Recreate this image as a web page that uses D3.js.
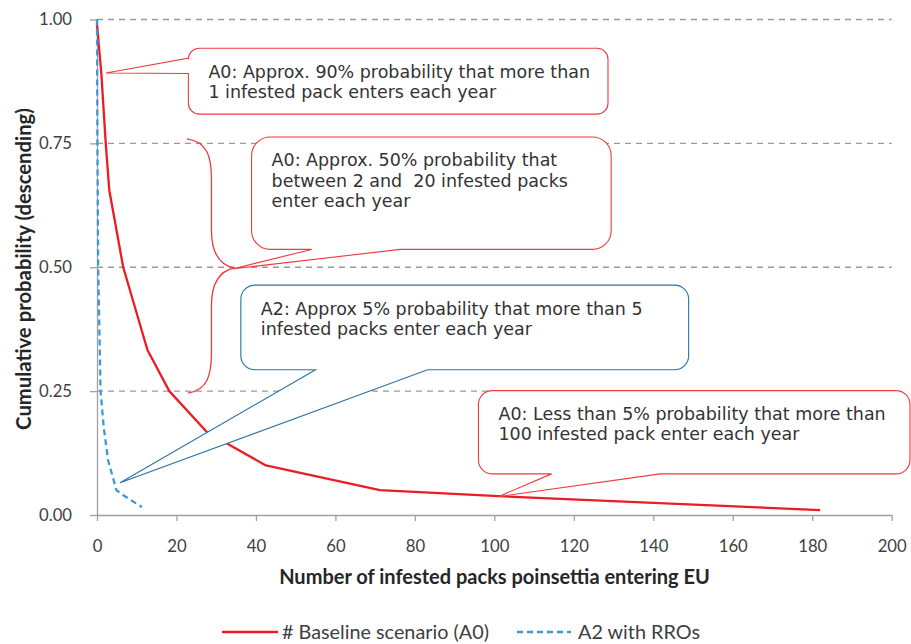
<!DOCTYPE html>
<html><head><meta charset="utf-8">
<script src="https://cdn.jsdelivr.net/npm/d3@7/dist/d3.min.js"></script>
<style>html,body{margin:0;padding:0;background:#fff;} svg{display:block;}</style>
</head><body>
<svg id="chart" width="911" height="644"></svg>
<script>
// ---------------- data ----------------
const a0Packs = [0, 1.1, 2.2, 3.1, 6.6, 12.7, 18.2, 27.7, 42.5, 71.2, 101, 182];
const a0Prob  = [0.99, 0.89, 0.75, 0.655, 0.5, 0.333, 0.25, 0.167, 0.10, 0.05, 0.038, 0.01];
const a2Packs = [0, 0.1, 0.3, 0.9, 1.7, 2.8, 4.9, 6.6, 11.3];
const a2Prob  = [1.0, 0.75, 0.5, 0.25, 0.177, 0.11, 0.05, 0.04, 0.016];
const xTicks = [0, 20, 40, 60, 80, 100, 120, 140, 160, 180, 200];
const yTicks = [0, 0.25, 0.5, 0.75, 1];
const seriesNames = ["# Baseline scenario (A0)", "A2 with RROs"];
const xTitle = "Number of infested packs poinsettia entering EU";
const yTitle = "Cumulative probability (descending)";
const calloutLines = [
  ["A0: Approx. 90% probability that more than", "1 infested pack enters each year"],
  ["A0: Approx. 50% probability that", "between 2 and  20 infested packs", "enter each year"],
  ["A2: Approx 5% probability that more than 5", "infested packs enter each year"],
  ["A0: Less than 5% probability that more than", "100 infested pack enter each year"]
];

// annotation geometry (data units: packs, probability)
const calloutBox = [
  {x0: 23.0, x1: 128.6, top: 0.942, bottom: 0.809},
  {x0: 38.9, x1: 129.4, top: 0.763, bottom: 0.536},
  {x0: 36.2, x1: 148.9, top: 0.464, bottom: 0.293},
  {x0: 96.0, x1: 204.6, top: 0.251, bottom: 0.083}
];
const calloutWedge = [
  {side: "left",   a: 0.922, b: 0.891, tip: [2.26, 0.892]},
  {side: "bottom", a: 54.0,  b: 76.3,  tip: [34.35, 0.497]},
  {side: "bottom", a: 55.0,  b: 83.2,  tip: [5.8, 0.065]},
  {side: "bottom", a: 114.4, b: 141.7, tip: [101.0, 0.037]}
];
const calloutColor = ["#ef3a3f", "#ef3a3f", "#2c72a6", "#ef3a3f"];
const brace = {top: [22.65, 0.759], shaft: 28.8, tip: [34.5, 0.4985], bottom: [22.9, 0.246]};

// ---------------- drawing ----------------
const svg = d3.select("#chart");
const x = d3.scaleLinear().domain([0, 200]).range([97, 891.7]);
const y = d3.scaleLinear().domain([0, 1]).range([515, 19.5]);

function measure(str, font) {
  const t = svg.append("text").style("font", font).style("white-space", "pre").text(str);
  const w = t.node().getComputedTextLength();
  t.remove();
  return w;
}
function fitSize(str, family, weight, target) {
  return 20 * target / measure(str, `${weight} 20px ${family}`);
}

const labelFont = "Lato, 'Open Sans', sans-serif";
const tickSize = fitSize("0.75", labelFont, 400, 33);
const titleSize = fitSize(xTitle, labelFont, 700, 431);
const ySize = fitSize(yTitle, labelFont, 700, 322);
const legendSize = fitSize(seriesNames[0], labelFont, 400, 207);
const calloutFont = "'DejaVu Sans', Verdana, sans-serif";
const calloutSize = fitSize(calloutLines[0][0], calloutFont, 400, 382);

// gridlines
svg.append("g").selectAll("line").data(yTicks.filter(d => d > 0)).join("line")
  .attr("x1", x(0)).attr("x2", x(200))
  .attr("y1", d => y(d)).attr("y2", d => y(d))
  .attr("stroke", "#9a9a9a").attr("stroke-width", 1.3).attr("stroke-dasharray", "6,5");

// axes
const xAxis = svg.append("g").attr("transform", `translate(0,${y(0)})`)
  .call(d3.axisBottom(x).tickValues(xTicks).tickSize(6).tickSizeOuter(0).tickFormat(d3.format("d")));
xAxis.selectAll("text").attr("y", 37).attr("dy", null)
  .style("font-family", labelFont).style("font-size", tickSize + "px").attr("fill", "#404040");
const yAxis = svg.append("g").attr("transform", `translate(${x(0)},0)`)
  .call(d3.axisLeft(y).tickValues(yTicks).tickSize(7).tickSizeOuter(0).tickPadding(18).tickFormat(d3.format(".2f")));
yAxis.selectAll("text").style("font-family", labelFont).style("font-size", tickSize + "px").attr("fill", "#404040");
svg.selectAll(".domain, .tick line").attr("stroke", "#a0a0a0").attr("stroke-width", 1.3);

// titles
svg.append("text").attr("x", 494.5).attr("y", 584).attr("text-anchor", "middle")
  .style("font-family", labelFont).style("font-weight", 700).style("font-size", titleSize + "px")
  .attr("fill", "#262626").text(xTitle);
svg.append("text").attr("transform", "translate(31,269) rotate(-90)").attr("text-anchor", "middle")
  .style("font-family", labelFont).style("font-weight", 700).style("font-size", ySize + "px")
  .attr("fill", "#262626").text(yTitle);

// series lines
const line = d3.line().x(d => x(d[0])).y(d => y(d[1]));
svg.append("path").datum(a0Packs.map((v, i) => [v, a0Prob[i]]))
  .attr("d", line).attr("fill", "none").attr("stroke", "#ed1c24").attr("stroke-width", 2.3)
  .attr("stroke-linejoin", "round");
svg.append("path").datum(a2Packs.map((v, i) => [v, a2Prob[i]]))
  .attr("d", line).attr("fill", "none").attr("stroke", "#3d9ad8").attr("stroke-width", 2.3)
  .attr("stroke-dasharray", "6,4");

// callouts
function calloutPath(b, w) {
  const x0 = x(b.x0), x1 = x(b.x1), y0 = y(b.top), y1 = y(b.bottom);
  const r = Math.min(x1 - x0, y1 - y0) * 0.1667;
  const tx = x(w.tip[0]), ty = y(w.tip[1]);
  let p = `M${x0 + r},${y0} H${x1 - r} A${r},${r} 0 0 1 ${x1},${y0 + r} V${y1 - r} A${r},${r} 0 0 1 ${x1 - r},${y1}`;
  if (w.side === "bottom") {
    p += ` H${x(w.b)} L${tx},${ty} L${x(w.a)},${y1}`;
  }
  p += ` H${x0 + r} A${r},${r} 0 0 1 ${x0},${y1 - r}`;
  if (w.side === "left") {
    p += ` V${y(w.b)} L${tx},${ty} L${x0},${y(w.a)}`;
  }
  p += ` V${y0 + r} A${r},${r} 0 0 1 ${x0 + r},${y0} Z`;
  return p;
}
calloutBox.forEach((b, i) => {
  svg.append("path").attr("d", calloutPath(b, calloutWedge[i]))
    .attr("fill", "#fff").attr("stroke", calloutColor[i]).attr("stroke-width", 1.1)
    .attr("stroke-linejoin", "miter");
  const t = svg.append("text")
    .style("font-family", calloutFont).style("font-size", calloutSize + "px")
    .style("white-space", "pre").attr("fill", "#333");
  calloutLines[i].forEach((s, j) => {
    t.append("tspan").attr("x", x(b.x0) + 20).attr("y", y(b.top) + 29.5 + j * 20.3).text(s);
  });
});

// curly brace
(function () {
  const xt = x(brace.top[0]), yt = y(brace.top[1]);
  const S = x(brace.shaft);
  const xm = x(brace.tip[0]), ym = y(brace.tip[1]);
  const xb = x(brace.bottom[0]), yb = y(brace.bottom[1]);
  const p = `M${xt},${yt} C${S - 4},${yt + 3} ${S},${yt + 18} ${S},${yt + 40}` +
    ` L${S},${ym - 38} C${S},${ym - 14} ${xm - 14},${ym - 3} ${xm},${ym}` +
    ` C${xm - 14},${ym + 3} ${S},${ym + 14} ${S},${ym + 38}` +
    ` L${S},${yb - 40} C${S},${yb - 18} ${S - 4},${yb - 3} ${xb},${yb}`;
  svg.append("path").attr("d", p).attr("fill", "none").attr("stroke", "#ef3a3f").attr("stroke-width", 1.3);
})();

// legend
const legY = 632;
svg.append("line").attr("x1", 222).attr("x2", 278).attr("y1", legY).attr("y2", legY)
  .attr("stroke", "#ed1c24").attr("stroke-width", 2.3);
svg.append("text").attr("x", 282).attr("y", legY).attr("dy", "0.35em")
  .style("font-family", labelFont).style("font-size", legendSize + "px").attr("fill", "#404040")
  .text(seriesNames[0]);
svg.append("line").attr("x1", 517).attr("x2", 571).attr("y1", legY).attr("y2", legY)
  .attr("stroke", "#3d9ad8").attr("stroke-width", 2.3).attr("stroke-dasharray", "6,4");
svg.append("text").attr("x", 578).attr("y", legY).attr("dy", "0.35em")
  .style("font-family", labelFont).style("font-size", legendSize + "px").attr("fill", "#404040")
  .text(seriesNames[1]);
</script>
</body></html>
